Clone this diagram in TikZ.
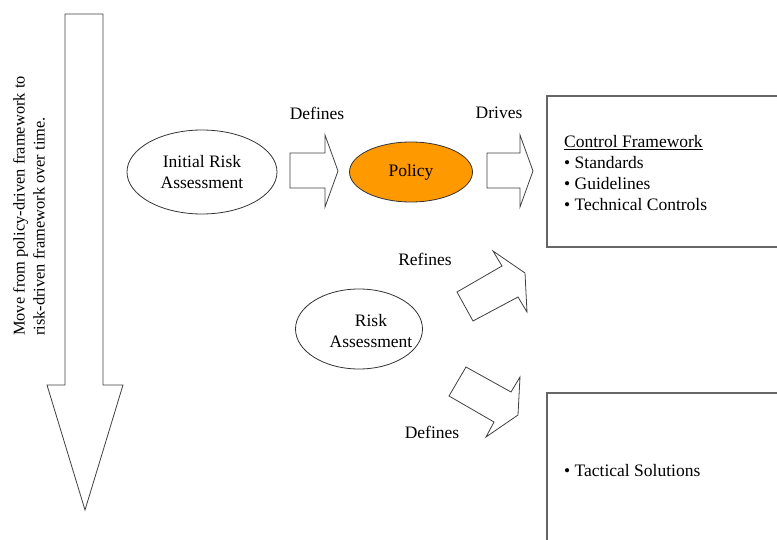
\documentclass[tikz,border=0pt]{standalone}
\usepackage{fontspec}
\setmainfont{Liberation Serif}
\usetikzlibrary{shapes.geometric}
\definecolor{policyorange}{RGB}{255,153,0}
\begin{document}
\begin{tikzpicture}[x=1pt,y=-1pt,
  txt/.style={font=\fontsize{17.5}{21}\selectfont, inner sep=0pt, align=center},
  oval/.style={ellipse, draw=black!80, line width=0.8pt, inner sep=0pt},
  blk/.style={draw=black!75, line width=0.8pt, fill=white, line join=miter},
  panel/.style={draw=black!60, line width=1.5pt}]
\useasboundingbox (0,0) rectangle (777,540);
\begin{scope}
\clip (0,0) rectangle (777,540);
% big down arrow
\draw[blk] (65,14) -- (103,14) -- (103,385) -- (123,385) -- (85,510) -- (47,385) -- (65,385) -- cycle;
\node[font=\fontsize{16.4}{20}\selectfont, inner sep=0pt, align=left, rotate=90, anchor=north west] (side) at (13,336)
  {Move from policy-driven framework to\\risk-driven framework over time.};

% ellipses
\node[oval, minimum width=150, minimum height=84, txt] (ira) at (202,172) {Initial Risk\\Assessment};
\node[oval, minimum width=123, minimum height=60, fill=policyorange, txt] (pol) at (411,172) {\raisebox{-2pt}{Policy}};
\node[oval, minimum width=127, minimum height=80] (ra) at (359,329) {};
\node[txt] (ratext) at (371,331) {Risk\\Assessment};

% block arrows
\draw[blk] (290,153) -- (325,153) -- (325,135) -- (338,171) -- (325,207) -- (325,188) -- (290,188) -- cycle;
\draw[blk] (487,153) -- (520,153) -- (520,135) -- (533,171) -- (520,207) -- (520,188) -- (487,188) -- cycle;
\draw[blk] (457,292) -- (502,266) -- (493,251) -- (525,273) -- (527,312) -- (518,297) -- (473,321) -- cycle;
\draw[blk] (466,367) -- (511,392) -- (520,377) -- (518,415) -- (486,437) -- (494,422) -- (449,396) -- cycle;

% labels
\node[txt] (l1) at (317,113) {Defines};
\node[txt] (l2) at (499,113) {Drives};
\node[txt] (l3) at (425,259) {Refines};
\node[txt] (l4) at (432,432) {Defines};

% panels
\draw[panel] (547,96) rectangle (790,247);
\draw[panel] (547,393) rectangle (790,560);
\node[txt, align=left, anchor=north west] (cf) at (564,135)
  {\underline{Control Framework}\\\textbullet{} Standards\\\textbullet{} Guidelines\\\textbullet{} Technical Controls};
\node[txt, anchor=west] (ts) at (564,471) {\textbullet{} Tactical Solutions};
\end{scope}
\end{tikzpicture}
\end{document}
